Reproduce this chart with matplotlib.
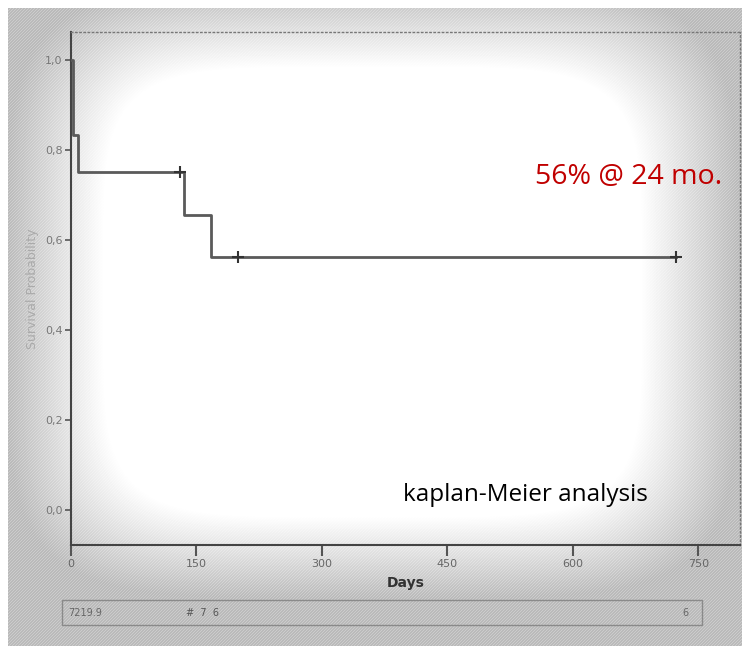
import numpy as np
import matplotlib
matplotlib.use("Agg")
import matplotlib.pyplot as plt
from matplotlib.patches import Rectangle

# ---- data ----
step_times = [0, 2, 8, 135, 168]
step_surv = [1.0, 0.833, 0.75, 0.656, 0.5625]
end_time = 724
censor_times = [130, 200, 724]
censor_surv = [0.75, 0.5625, 0.5625]
x_ticks = [0, 150, 300, 450, 600, 750]
y_ticks = [0.0, 0.2, 0.4, 0.6, 0.8, 1.0]
y_tick_labels = ["0,0", "0,2", "0,4", "0,6", "0,8", "1,0"]
annotation = "56% @ 24 mo."
caption = "kaplan-Meier analysis"

W, H = 744, 648
fig = plt.figure(figsize=(W / 100, H / 100), dpi=100)
fig.patch.set_facecolor("white")

# background vignette
bg = fig.add_axes([0, 0, 1, 1], zorder=0)
yy, xx = np.mgrid[0:H, 0:W]
nx = np.abs(xx - W * 0.5) / (W * 0.5)
ny = np.abs(yy - H * 0.45) / (H * 0.48)
p = 5.0
d = (nx ** p + ny ** p) ** (1 / p)
v = np.clip((d - 0.72) / 0.26, 0, 1)
gray = 1.0 - 0.27 * v
tex = ((xx + yy) % 3 == 0) * 0.07 * v
img = np.clip(gray + tex, 0, 1)
mask = (xx < 8) | (xx > W - 3) | (yy < 8) | (yy > H - 3)
img[mask] = 1.0
bg.imshow(img, cmap="gray", vmin=0, vmax=1, extent=[0, W, H, 0], aspect="auto",
          interpolation="nearest")
bg.set_xlim(0, W)
bg.set_ylim(H, 0)
bg.axis("off")

# bottom strip
bg.add_patch(Rectangle((62, 600), 640, 25, fill=False, edgecolor="#8a8a8a", lw=1.0))
bg.text(68, 613, "7219.9", fontsize=7, color="#666666", va="center")
bg.text(186, 613, "#  7  6", fontsize=7, color="#555555", va="center")
bg.text(682, 613, "6", fontsize=7, color="#666666", va="center")

# main axes
left, right = 71 / W, 740 / W
bottom, top = (H - 545) / H, (H - 32) / H
ax = fig.add_axes([left, bottom, right - left, top - bottom], zorder=1)
ax.patch.set_alpha(0)

xs = list(step_times) + [end_time]
ys = list(step_surv) + [step_surv[-1]]
ax.step(xs, ys, where="post", color="#5a5a5a", lw=2.0, zorder=3)
ax.plot(censor_times, censor_surv, linestyle="none", marker="+", markersize=8,
        mew=1.5, color="#333333", zorder=4)

ax.set_xlim(0, 800)
ax.set_ylim(-0.078, 1.062)
ax.set_xticks(x_ticks)
ax.set_xticklabels([str(t) for t in x_ticks])
ax.set_yticks(y_ticks)
ax.set_yticklabels(y_tick_labels)
ax.tick_params(axis="x", direction="out", length=8, width=1.5, colors="#555555",
               labelsize=8, labelcolor="#666666", pad=2)
ax.tick_params(axis="y", direction="out", length=4, width=1.2, colors="#555555",
               labelsize=8, labelcolor="#777777", pad=2)

for s in ["left", "bottom"]:
    ax.spines[s].set_color("#444444")
    ax.spines[s].set_linewidth(1.5)
for s in ["top", "right"]:
    ax.spines[s].set_color("#777777")
    ax.spines[s].set_linewidth(1.0)
    ax.spines[s].set_linestyle((0, (1, 2)))

ax.set_xlabel("Days", fontsize=10, fontweight="bold", color="#333333", labelpad=5)
ax.set_ylabel("Survival Probability", fontsize=9, color="#aaaaaa", labelpad=4)

fig.text(722 / W, 1 - 177 / H, annotation, color="#c00000", fontsize=20.5,
         family="Open Sans", ha="right", va="center")
fig.text(648 / W, 1 - 495 / H, caption, color="black", fontsize=17.5,
         family="Open Sans", ha="right", va="center")

fig.savefig("out.png", dpi=100)
